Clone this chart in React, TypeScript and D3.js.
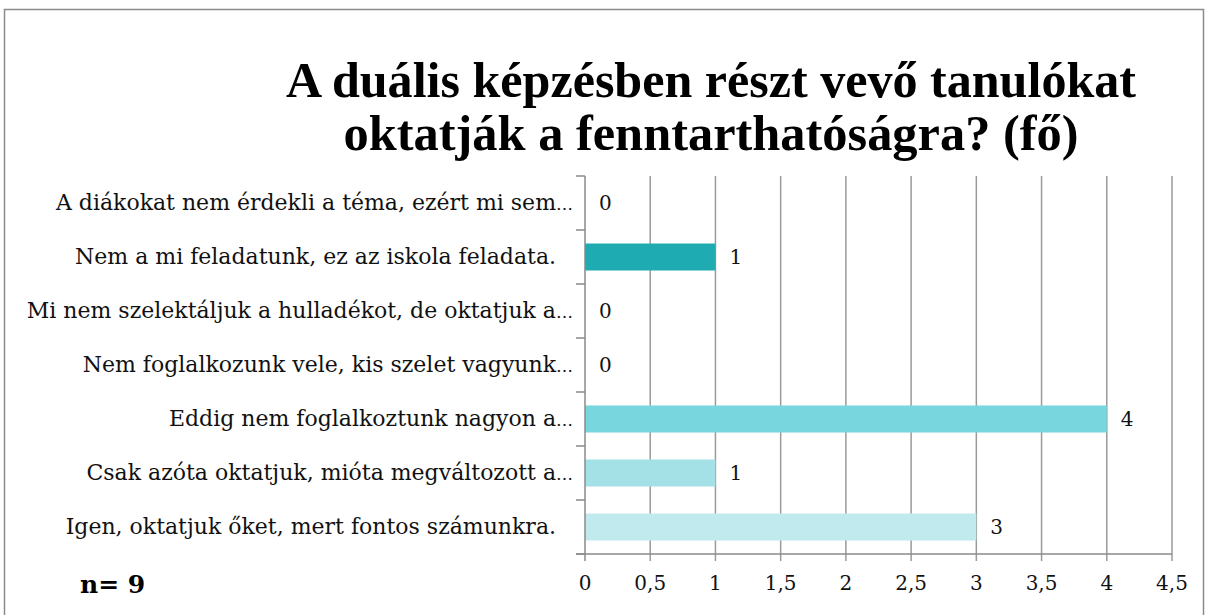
import React, { useEffect, useRef } from "react";
import * as d3 from "d3";

const categories = [
  "A diákokat nem érdekli a téma, ezért mi sem",
  "Nem a mi feladatunk, ez az iskola feladata.",
  "Mi nem szelektáljuk a hulladékot, de oktatjuk a",
  "Nem foglalkozunk vele, kis szelet vagyunk",
  "Eddig nem foglalkoztunk nagyon a",
  "Csak azóta oktatjuk, mióta megváltozott a",
  "Igen, oktatjuk őket, mert fontos számunkra.",
];
const truncated = [true, false, true, true, true, true, false];
const values = [0, 1, 0, 0, 4, 1, 3];
const barColors = ["#4FC3CB", "#1EABB2", "#3BB9C1", "#5CC9D1", "#78D6DE", "#A4E1E7", "#C0EAED"];
const xTicks = [0, 0.5, 1, 1.5, 2, 2.5, 3, 3.5, 4, 4.5];
const titleLines = ["A duális képzésben részt vevő tanulókat", "oktatják a fenntarthatóságra? (fő)"];
const titleWidths = [850, 735];
const nLabel = "n= 9";

const W = 1209;
const H = 615;
const FONT = "'DejaVu Serif', 'Liberation Serif', serif";
const TITLE_FONT = "'Liberation Serif', 'DejaVu Serif', serif";

export default function App() {
  const ref = useRef<SVGSVGElement>(null);
  useEffect(() => {
    const svg = d3.select(ref.current);
    svg.selectAll("*").remove();
    const left = 585, right = 1172, top = 176, bottom = 554;
    const x = d3.scaleLinear().domain([0, 4.5]).range([left, right]);
    const y = d3.scaleBand<string>().domain(categories).range([top, bottom]).paddingInner(0.5).paddingOuter(0.25);
    const band = d3.scaleBand<string>().domain(categories).range([top, bottom]);

    svg.append("rect").attr("x", 4.5).attr("y", 9.5).attr("width", 1199).attr("height", 620)
      .attr("fill", "white").attr("stroke", "#8a8a8a").attr("stroke-width", 1.5);

    const g = svg.append("g");
    g.selectAll("line.grid").data(xTicks.slice(1)).enter().append("line")
      .attr("x1", (d) => x(d)).attr("x2", (d) => x(d))
      .attr("y1", top).attr("y2", bottom + 7)
      .attr("stroke", "#9a9a9a").attr("stroke-width", 1.5);

    g.selectAll("rect.bar").data(categories).enter().append("rect")
      .attr("x", x(0)).attr("y", (d) => y(d)!)
      .attr("width", (_, i) => x(values[i]) - x(0))
      .attr("height", y.bandwidth())
      .attr("fill", (_, i) => barColors[i]);

    g.append("line").attr("x1", x(0)).attr("x2", x(0)).attr("y1", top).attr("y2", bottom + 7)
      .attr("stroke", "#8a8a8a").attr("stroke-width", 1.5);
    const bounds = categories.map((c) => band(c)!).concat([bottom]);
    g.selectAll("line.ytick").data(bounds).enter().append("line")
      .attr("x1", x(0) - 9).attr("x2", x(0)).attr("y1", (d) => d).attr("y2", (d) => d)
      .attr("stroke", "#8a8a8a").attr("stroke-width", 1.5);
    g.append("line").attr("x1", x(0) - 9).attr("x2", right).attr("y1", bottom).attr("y2", bottom)
      .attr("stroke", "#8a8a8a").attr("stroke-width", 1.5);

    g.selectAll("text.xt").data(xTicks).enter().append("text")
      .attr("x", (d) => x(d)).attr("y", bottom + 36)
      .attr("text-anchor", "middle").attr("font-family", FONT).attr("font-size", 20)
      .attr("fill", "#111")
      .text((d) => d3.format("")(d).replace(".", ","));

    categories.forEach((c, i) => {
      const cy = band(c)! + band.bandwidth() / 2 + 7;
      g.append("text").attr("x", 556).attr("y", cy).attr("text-anchor", "end")
        .attr("font-family", FONT).attr("font-size", 22).attr("fill", "#111").text(c);
      if (truncated[i]) {
        g.append("text").attr("x", 556).attr("y", cy).attr("text-anchor", "start")
          .attr("font-family", FONT).attr("font-size", 17).attr("fill", "#111").text("…");
      }
    });

    g.selectAll("text.val").data(categories).enter().append("text")
      .attr("x", (_, i) => x(values[i]) + 14)
      .attr("y", (d) => band(d)! + band.bandwidth() / 2 + 7)
      .attr("font-family", FONT).attr("font-size", 20).attr("fill", "#111")
      .text((_, i) => String(values[i]));

    titleLines.forEach((t, i) => {
      svg.append("text").attr("x", 711).attr("y", 97 + i * 53).attr("text-anchor", "middle")
        .attr("font-family", TITLE_FONT).attr("font-weight", "bold").attr("font-size", 50)
        .attr("textLength", titleWidths[i]).attr("lengthAdjust", "spacingAndGlyphs")
        .attr("fill", "#000").text(t);
    });

    svg.append("text").attr("x", 80).attr("y", 593).attr("font-family", FONT)
      .attr("font-weight", "bold").attr("font-size", 25).attr("fill", "#000").text(nLabel);
  }, []);
  return (
    <svg ref={ref} width={W} height={H} style={{ position: "absolute", left: 0, top: 0, background: "white" }} />
  );
}
